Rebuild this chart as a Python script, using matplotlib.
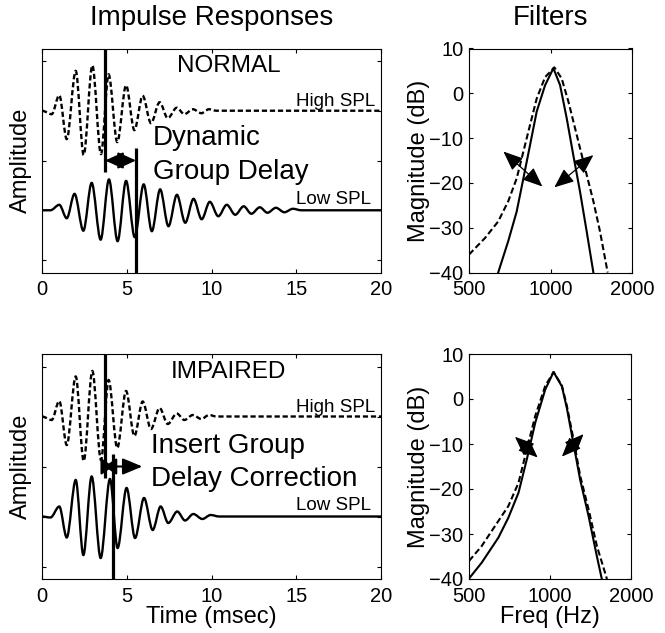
import numpy as np
import matplotlib
matplotlib.use("Agg")
import matplotlib.pyplot as plt
from matplotlib.path import Path
from matplotlib.patches import PathPatch

plt.rcParams["font.family"] = ["Liberation Sans", "DejaVu Sans"]

# impulse responses: extrema (time in msec, amplitude)
high_t = [0, 0.57, 1.02, 1.46, 1.99, 2.46, 2.97, 3.48, 3.93, 4.44, 4.96, 5.45,
          5.94, 6.43, 6.94, 7.42, 7.95, 8.4, 8.9, 9.4, 9.85, 10.3, 20]
high_a = [0, -0.07, 0.31, -0.57, 0.80, -0.89, 0.91, -0.87, 0.73, -0.63, 0.51, -0.39,
          0.30, -0.25, 0.17, -0.15, 0.06, -0.07, 0.03, -0.05, 0.03, 0, 0]

normal_low_t = [0, 0.5, 1.02, 1.46, 1.92, 2.44, 2.93, 3.46, 3.95, 4.46, 4.96, 5.47,
                6.0, 6.48, 6.97, 7.46, 7.96, 8.45, 8.94, 9.42, 9.9, 10.4, 10.9, 11.4,
                11.9, 12.35, 12.85, 13.3, 13.8, 14.3, 14.8, 15.3, 20]
normal_low_a = [0, 0, 0.11, -0.16, 0.33, -0.41, 0.55, -0.59, 0.62, -0.62, 0.59, -0.54,
                0.52, -0.42, 0.42, -0.32, 0.31, -0.25, 0.23, -0.18, 0.17, -0.12, 0.11, -0.09,
                0.08, -0.07, 0.06, -0.05, 0.05, -0.04, 0.03, 0, 0]

impaired_low_t = [0, 0.5, 1.02, 1.46, 1.99, 2.44, 2.93, 3.46, 4.01, 4.46, 4.99, 5.49,
                  6.02, 6.53, 7.0, 7.45, 7.98, 8.44, 8.93, 9.46, 9.95, 10.45, 20]
impaired_low_a = [0, -0.02, 0.2, -0.42, 0.73, -0.77, 0.80, -0.83, 0.75, -0.63, 0.57, -0.43,
                  0.37, -0.27, 0.2, -0.13, 0.1, -0.08, 0.05, -0.05, 0.03, 0, 0]

high_base = 1.0
low_base = -1.0

# group delay markers (msec)
normal_delay = (3.72, 5.55)
impaired_delay = (3.70, 4.19)
correction_end = 5.92

# filters (Hz, dB)
normal_low_f = [641, 698, 750, 794, 840, 889, 955, 1025, 1085, 1148, 1214, 1285, 1360, 1440]
normal_low_db = [-40, -33, -26.4, -19, -11.6, -4.1, 1.8, 5.6, 1.8, -5.6, -13.8, -21.9, -30.8, -40]
normal_high_f = [500, 573, 641, 698, 750, 794, 840, 889, 955, 1033, 1100, 1165, 1250, 1341,
                 1440, 1523, 1626]
normal_high_db = [-36, -32.3, -28.6, -24.1, -19, -13, -7.1, -1.2, 3.6, 5.8, 3.3, -1.9, -9.3,
                  -16.7, -24.1, -30.8, -40]

impaired_low_f = [500, 557, 643, 700, 764, 820, 881, 960, 1031, 1107, 1155, 1223, 1295,
                  1391, 1494, 1558]
impaired_low_db = [-39.9, -36.4, -30.8, -26.4, -20.8, -13.4, -5.3, 2.1, 6.0, 2.8, -2.0,
                   -10.0, -18.0, -26.0, -35.0, -40]
impaired_high_f = [500, 557, 643, 700, 764, 820, 881, 960, 1031, 1107, 1155, 1223, 1295,
                   1391, 1494, 1628]
impaired_high_db = [-36, -32.7, -27.1, -23.8, -18.6, -11.2, -3.8, 2.9, 6.0, 3.0, -1.5,
                    -9.0, -17.1, -24.5, -32.7, -40]

# arrows on filter plots ((f0, dB0), (f1, dB1))
normal_arrows = [((670, -13.0), (933, -20.8)), ((1033, -21.0), (1440, -13.8))]
impaired_arrows = [((741, -8.4), (900, -13.0)), ((1107, -12.8), (1333, -7.8))]

time_ticks = [0, 5, 10, 15, 20]
freq_ticks = [500, 1000, 2000]
db_ticks = [-40, -30, -20, -10, 0, 10]

DASH = (0, (2.2, 1.2))


def wave(ax, t, a, base, ls):
    # smooth curve through the extrema, horizontal tangent at each one
    y = [base + v for v in a]
    verts = [(t[0], y[0])]
    codes = [Path.MOVETO]
    for i in range(len(t) - 1):
        dt = t[i + 1] - t[i]
        verts += [(t[i] + dt / 3, y[i]), (t[i + 1] - dt / 3, y[i + 1]), (t[i + 1], y[i + 1])]
        codes += [Path.CURVE4] * 3
    ax.add_patch(PathPatch(Path(verts, codes), fill=False, lw=1.7, ls=ls,
                           edgecolor="k", capstyle="butt"))


def style(ax):
    ax.tick_params(direction="in", length=3, width=0.8, top=True, right=True,
                   labelsize=14.5, pad=5.5)
    for s in ax.spines.values():
        s.set_linewidth(0.8)


def impulse_panel(ax, low_t, low_a, label, delay):
    wave(ax, high_t, high_a, high_base, DASH)
    wave(ax, low_t, low_a, low_base, "-")
    ax.set_xlim(0, 20)
    ax.set_ylim(-2.25, 2.25)
    ax.set_xticks(time_ticks)
    ax.set_yticks([-2, -1, 0, 1, 2])
    ax.set_yticklabels([])
    style(ax)
    ax.plot([delay[0], delay[0]], [2.25, -0.23], color="k", lw=2.3, solid_capstyle="butt")
    ax.plot([delay[1], delay[1]], [0.25, -2.25], color="k", lw=2.3, solid_capstyle="butt")
    ax.text(11.0, 1.9, label, ha="center", va="center", fontsize=17.5)
    ax.text(15.0, 1.09, "High SPL", ha="left", va="baseline", fontsize=13.5)
    ax.text(15.0, -0.87, "Low SPL", ha="left", va="baseline", fontsize=13.5)
    ax.set_ylabel("Amplitude", fontsize=17)
    ax.yaxis.set_label_coords(-0.03, 0.5)


def filter_panel(ax, lf, ldb, hf, hdb, arrows):
    ax.plot(hf, hdb, color="k", lw=1.5, ls=(0, (3.0, 1.5)))
    ax.plot(lf, ldb, color="k", lw=1.5)
    ax.set_xscale("log")
    ax.set_xlim(500, 2000)
    ax.set_ylim(-40, 10)
    ax.set_xticks(freq_ticks)
    ax.set_xticklabels([str(f) for f in freq_ticks])
    ax.xaxis.set_minor_locator(plt.NullLocator())
    ax.set_yticks(db_ticks)
    style(ax)
    ax.tick_params(axis="y", pad=4)
    for p0, p1 in arrows:
        ax.annotate("", xy=p1, xytext=p0,
                    arrowprops=dict(arrowstyle="<|-|>,head_length=0.6,head_width=0.25",
                                    mutation_scale=20, lw=0.9, color="k",
                                    shrinkA=0, shrinkB=0))
    ax.set_ylabel("Magnitude (dB)", fontsize=17)
    ax.yaxis.set_label_coords(-0.24, 0.5)


fig = plt.figure(figsize=(6.65, 6.33), dpi=100)

ax1 = fig.add_axes([42 / 665, 1 - 272.5 / 633, 339 / 665, 224 / 633])
ax2 = fig.add_axes([469 / 665, 1 - 272.5 / 633, 163 / 665, 224 / 633])
ax3 = fig.add_axes([42 / 665, 1 - 579 / 633, 339 / 665, 225 / 633])
ax4 = fig.add_axes([469 / 665, 1 - 579 / 633, 162 / 665, 225 / 633])

# top row: normal hearing
impulse_panel(ax1, normal_low_t, normal_low_a, "NORMAL", normal_delay)
ax1.annotate("", xy=(normal_delay[1], 0.0), xytext=(normal_delay[0], 0.0),
             arrowprops=dict(arrowstyle="<|-|>,head_length=0.55,head_width=0.25",
                             mutation_scale=20, lw=1.5, color="k", shrinkA=0, shrinkB=0))
ax1.text(6.55, 0.31, "Dynamic", ha="left", va="baseline", fontsize=20)
ax1.text(6.55, -0.38, "Group Delay", ha="left", va="baseline", fontsize=20)
ax1.set_title("Impulse Responses", fontsize=20, pad=17)

filter_panel(ax2, normal_low_f, normal_low_db, normal_high_f, normal_high_db, normal_arrows)
ax2.set_title("Filters", fontsize=20, pad=17)

# bottom row: impaired hearing
impulse_panel(ax3, impaired_low_t, impaired_low_a, "IMPAIRED", impaired_delay)
ax3.annotate("", xy=(impaired_delay[1], 0.0), xytext=(impaired_delay[0], 0.0),
             arrowprops=dict(arrowstyle="<|-|>,head_length=0.35,head_width=0.25",
                             mutation_scale=20, lw=1.5, color="k", shrinkA=0, shrinkB=0))
ax3.annotate("", xy=(correction_end, 0.0), xytext=(impaired_delay[1], 0.0),
             arrowprops=dict(arrowstyle="-|>,head_length=0.6,head_width=0.25",
                             mutation_scale=20, lw=1.5, color="k", shrinkA=0, shrinkB=0))
ax3.text(6.45, 0.27, "Insert Group", ha="left", va="baseline", fontsize=20)
ax3.text(6.45, -0.40, "Delay Correction", ha="left", va="baseline", fontsize=20)
ax3.set_xlabel("Time (msec)", fontsize=17)
ax3.xaxis.set_label_coords(0.5, -0.12)

filter_panel(ax4, impaired_low_f, impaired_low_db, impaired_high_f, impaired_high_db,
             impaired_arrows)
ax4.set_xlabel("Freq (Hz)", fontsize=17)
ax4.xaxis.set_label_coords(0.5, -0.12)

fig.savefig("out.png", dpi=100)
